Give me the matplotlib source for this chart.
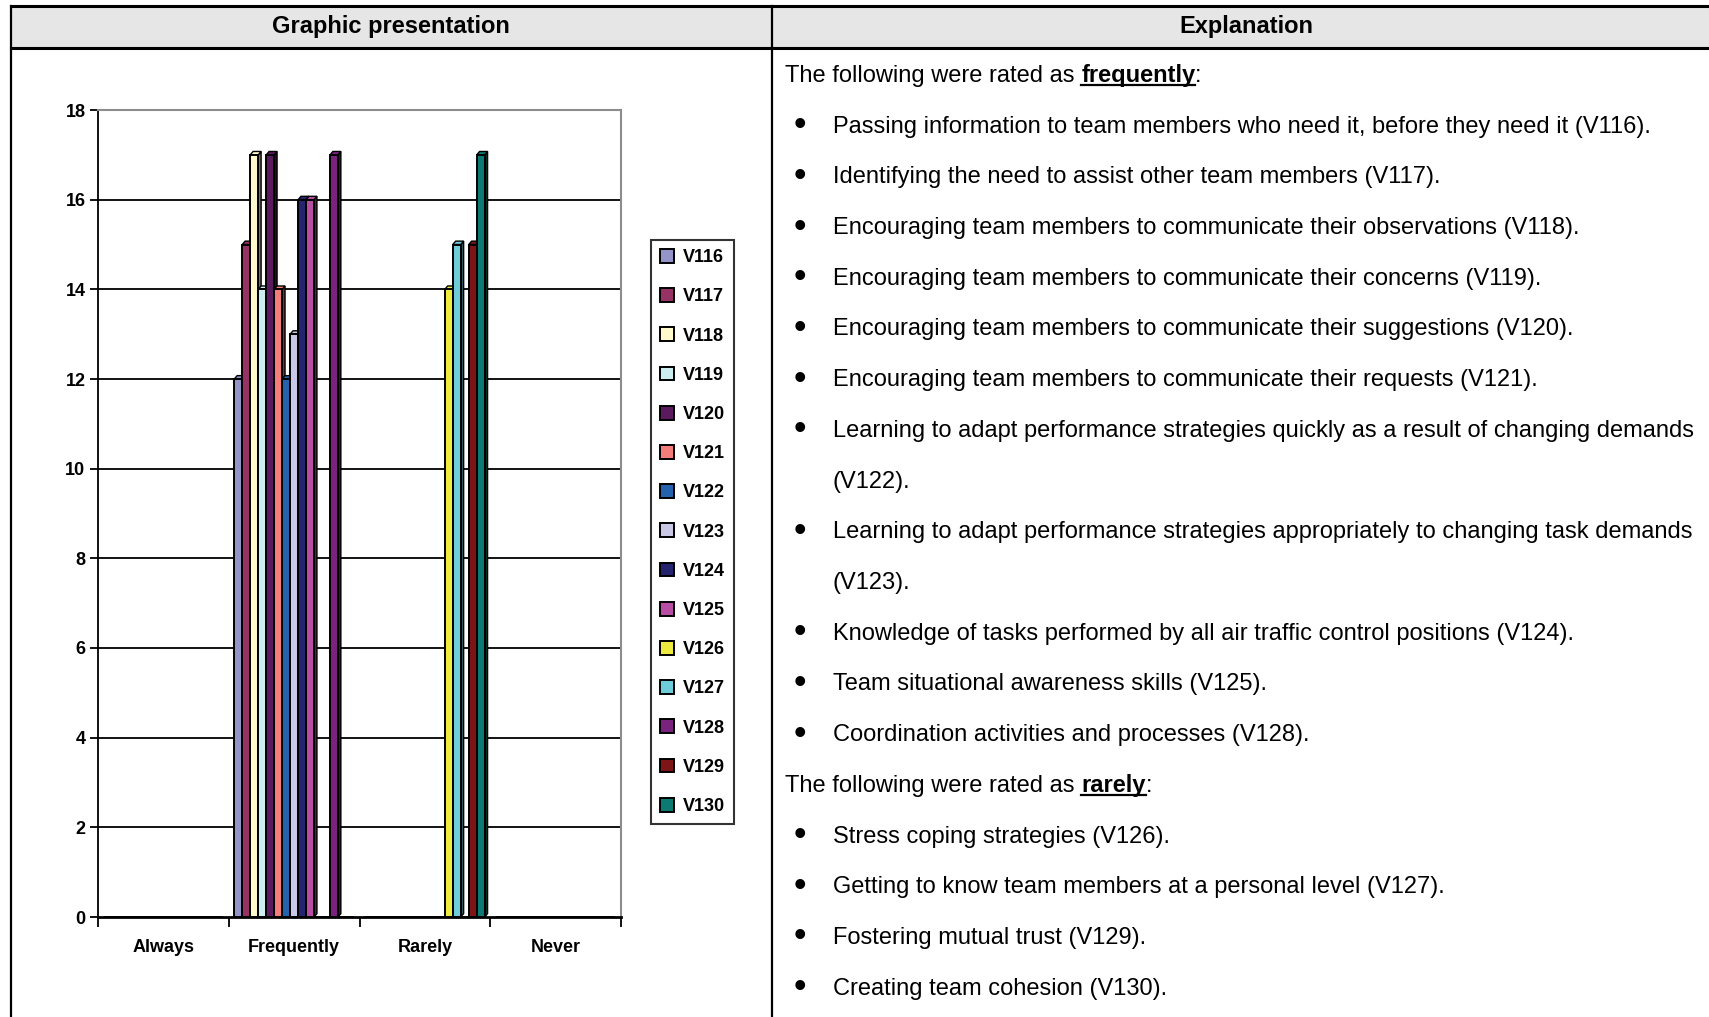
import matplotlib
matplotlib.use('Agg')
import matplotlib.pyplot as plt
import numpy as np
from matplotlib import font_manager
from matplotlib.patches import Polygon, Rectangle
from matplotlib.lines import Line2D
from matplotlib.colors import to_rgb

# --- data ---
categories = ['Always', 'Frequently', 'Rarely', 'Never']
series = ['V116', 'V117', 'V118', 'V119', 'V120', 'V121', 'V122', 'V123',
          'V124', 'V125', 'V126', 'V127', 'V128', 'V129', 'V130']
always = [0, 0, 0, 0, 0, 0, 0, 0, 0, 0, 0, 0, 0, 0, 0]
frequently = [12, 15, 17, 14, 17, 14, 12, 13, 16, 16, 0, 0, 17, 0, 0]
rarely = [0, 0, 0, 0, 0, 0, 0, 0, 0, 0, 14, 15, 0, 15, 17]
never = [0, 0, 0, 0, 0, 0, 0, 0, 0, 0, 0, 0, 0, 0, 0]
colors = ['#9494c8', '#963264', '#fff9cc', '#cdeef0', '#5c1a5e', '#f47c7a',
          '#2462ae', '#c9c8e6', '#25246e', '#b84ea4', '#eeea40', '#6ecbd8',
          '#7a237e', '#7d1416', '#0c7a72']

lines_freq = [
    'Passing information to team members who need it, before they need it (V116).',
    'Identifying the need to assist other team members (V117).',
    'Encouraging team members to communicate their observations (V118).',
    'Encouraging team members to communicate their concerns (V119).',
    'Encouraging team members to communicate their suggestions (V120).',
    'Encouraging team members to communicate their requests (V121).',
    'Learning to adapt performance strategies quickly as a result of changing demands\n(V122).',
    'Learning to adapt performance strategies appropriately to changing task demands\n(V123).',
    'Knowledge of tasks performed by all air traffic control positions (V124).',
    'Team situational awareness skills (V125).',
    'Coordination activities and processes (V128).',
]
lines_rare = [
    'Stress coping strategies (V126).',
    'Getting to know team members at a personal level (V127).',
    'Fostering mutual trust (V129).',
    'Creating team cohesion (V130).',
]


def pick_font():
    for name in ['Liberation Sans Narrow', 'Arial Narrow', 'Liberation Sans']:
        try:
            font_manager.findfont(font_manager.FontProperties(family=name),
                                  fallback_to_default=False)
            return name
        except Exception:
            pass
    return 'DejaVu Sans'


FONT = pick_font()
plt.rcParams['font.family'] = [FONT, 'DejaVu Sans']

W, H = 1709, 1017
fig = plt.figure(figsize=(W / 100, H / 100), dpi=100)


def fx(px):
    return px / W


def fy(py):
    return 1 - py / H


# --- table frame ---
fig.patches.append(Rectangle((fx(11), fy(48)), fx(1709) - fx(11), fy(6) - fy(48),
                             transform=fig.transFigure, facecolor='#e6e6e6',
                             edgecolor='none', zorder=0))
for (x0, y0, x1, y1, lw) in [(11, 6, 1709, 6, 2.2), (11, 48, 1709, 48, 2.2),
                             (11, 6, 11, 1017, 1.6), (772, 6, 772, 1017, 1.6)]:
    fig.lines.append(Line2D([fx(x0), fx(x1)], [fy(y0), fy(y1)], transform=fig.transFigure,
                            color='black', lw=lw))
fig.text(fx(391), fy(26), 'Graphic presentation', ha='center', va='center',
         fontsize=17, fontweight='bold')
fig.text(fx(1246), fy(26), 'Explanation', ha='center', va='center',
         fontsize=17, fontweight='bold')

# --- chart ---
ax = fig.add_axes([fx(98), fy(917), fx(621) - fx(98), fy(110) - fy(917)])
data = np.array([always, frequently, rarely, never])
x = np.arange(len(categories))
n = len(series)
bw = 0.061
dx, dy = 0.022, 0.075

for i, name in enumerate(series):
    xs = x - n * bw / 2 + i * bw
    vals = data[:, i]
    ax.bar(xs, vals, width=bw, align='edge', color=colors[i], edgecolor='black',
           linewidth=1.4, label=name, zorder=4)
    dark = tuple(c * 0.45 for c in to_rgb(colors[i]))
    for xi, v in zip(xs, vals):
        if v <= 0:
            continue
        side = Polygon([(xi + bw, 0), (xi + bw + dx, dy), (xi + bw + dx, v + dy), (xi + bw, v)],
                       closed=True, facecolor=dark, edgecolor='black', lw=1.0, zorder=3)
        top = Polygon([(xi, v), (xi + dx, v + dy), (xi + bw + dx, v + dy), (xi + bw, v)],
                      closed=True, facecolor=colors[i], edgecolor='black', lw=1.0, zorder=3)
        ax.add_patch(side)
        ax.add_patch(top)

yt = np.arange(0, 19, 2)
ax.set_ylim(0, 18)
ax.set_xlim(-0.5, len(categories) - 0.5)
ax.hlines(yt[1:-1], -0.5, len(categories) - 0.5, colors='black', lw=1.3, zorder=1)
ax.set_yticks(yt)
ax.set_yticklabels([str(v) for v in yt], fontweight='bold', fontsize=13)
ax.set_xticks(np.arange(len(categories) + 1) - 0.5)
ax.set_xticklabels([])
ax.set_xticks(x, minor=True)
ax.set_xticklabels(categories, minor=True, fontweight='bold', fontsize=13)
ax.tick_params(axis='x', which='minor', length=0, pad=16)
ax.tick_params(axis='x', which='major', length=7, width=1.3, direction='out')
ax.tick_params(axis='y', length=6, width=1.3, direction='out', pad=3)
for s in ['top', 'right']:
    ax.spines[s].set_color('#8c8c8c')
    ax.spines[s].set_linewidth(1.5)
ax.spines['left'].set_linewidth(1.3)
ax.spines['bottom'].set_linewidth(2.0)

leg = fig.legend(loc='center left', bbox_to_anchor=(fx(651), fy(532)),
                 prop={'weight': 'bold', 'size': 13}, frameon=True, fancybox=False,
                 edgecolor='black', handlelength=0.8, handleheight=0.8,
                 handletextpad=0.45, labelspacing=1.22, borderpad=0.5, borderaxespad=0)
leg.get_frame().set_linewidth(1.5)

# --- explanation text ---
fs = 17
r = fig.canvas.get_renderer()
step = 50.7
y0 = 74


def heading(y, before, key):
    base = fy(y + 8)
    t1 = fig.text(fx(785), base, before, fontsize=fs, va='baseline')
    bb = t1.get_window_extent(renderer=r)
    sp = fig.text(0, 0, 'a a', fontsize=fs).get_window_extent(renderer=r).width - \
        fig.text(0, 0, 'aa', fontsize=fs).get_window_extent(renderer=r).width
    for t in fig.texts[-2:]:
        t.remove()
    xk = bb.x1 + sp
    t2 = fig.text(xk / W, base, key, fontsize=fs, fontweight='bold', va='baseline')
    bb2 = t2.get_window_extent(renderer=r)
    fig.lines.append(Line2D([xk / W, bb2.x1 / W], [fy(y + 11), fy(y + 11)],
                            transform=fig.transFigure, color='black', lw=1.6))
    fig.text(bb2.x1 / W, base, ':', fontsize=fs, va='baseline')


row = 0
heading(y0, 'The following were rated as', 'frequently')
row += 1
for group, key in [(lines_freq, 'rarely'), (lines_rare, None)]:
    for item in group:
        parts = item.split('\n')
        fig.text(fx(800), fy(y0 + row * step + 1), '\u2022', fontsize=26, ha='center',
                 va='center')
        for p in parts:
            fig.text(fx(833), fy(y0 + row * step + 8), p, fontsize=fs, va='baseline')
            row += 1
    if key:
        heading(y0 + row * step, 'The following were rated as', key)
        row += 1

fig.savefig('out.png', dpi=100)
